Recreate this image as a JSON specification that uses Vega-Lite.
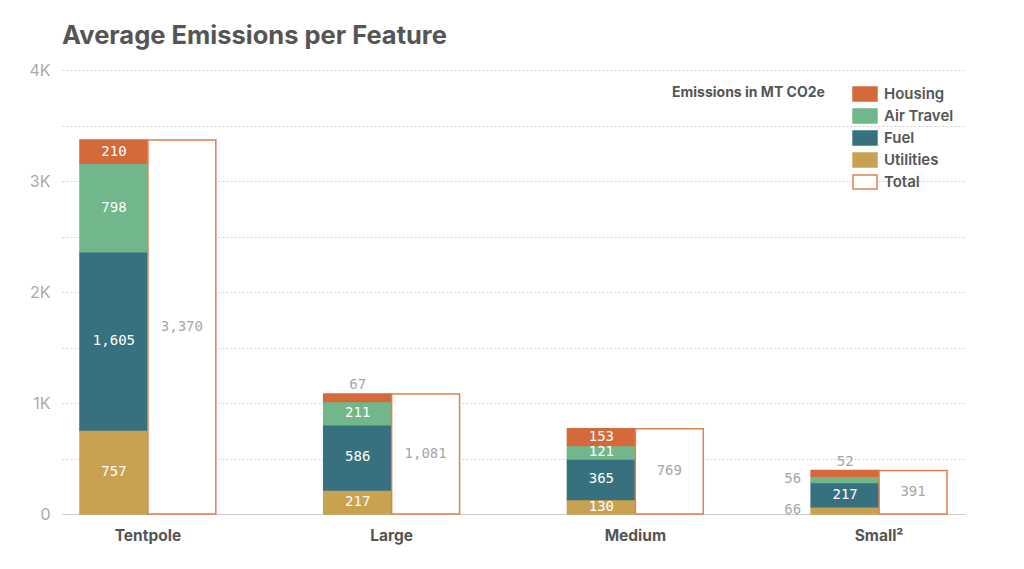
{
  "$schema": "https://vega.github.io/schema/vega-lite/v6.json",
  "width": 903,
  "height": 444,
  "autosize": {"type": "none"},
  "padding": {"left": 62, "top": 70, "right": 59, "bottom": 55},
  "background": "white",
  "title": {"text": "Average Emissions per Feature", "anchor": "start", "frame": "group", "font": "Inter", "fontSize": 25.5, "fontWeight": "bold", "color": "#555555", "offset": 13},
  "config": {"view": {"stroke": null}, "font": "Inter"},
  "data": {"values": [
    {"category": "Tentpole", "group": "Stack", "series": "Utilities", "value": 757, "rank": 1},
    {"category": "Tentpole", "group": "Stack", "series": "Fuel", "value": 1605, "rank": 2},
    {"category": "Tentpole", "group": "Stack", "series": "Air Travel", "value": 798, "rank": 3},
    {"category": "Tentpole", "group": "Stack", "series": "Housing", "value": 210, "rank": 4},
    {"category": "Tentpole", "group": "Total", "series": "Total", "value": 3370, "rank": 1},
    {"category": "Large", "group": "Stack", "series": "Utilities", "value": 217, "rank": 1},
    {"category": "Large", "group": "Stack", "series": "Fuel", "value": 586, "rank": 2},
    {"category": "Large", "group": "Stack", "series": "Air Travel", "value": 211, "rank": 3},
    {"category": "Large", "group": "Stack", "series": "Housing", "value": 67, "rank": 4},
    {"category": "Large", "group": "Total", "series": "Total", "value": 1081, "rank": 1},
    {"category": "Medium", "group": "Stack", "series": "Utilities", "value": 130, "rank": 1},
    {"category": "Medium", "group": "Stack", "series": "Fuel", "value": 365, "rank": 2},
    {"category": "Medium", "group": "Stack", "series": "Air Travel", "value": 121, "rank": 3},
    {"category": "Medium", "group": "Stack", "series": "Housing", "value": 153, "rank": 4},
    {"category": "Medium", "group": "Total", "series": "Total", "value": 769, "rank": 1},
    {"category": "Small²", "group": "Stack", "series": "Utilities", "value": 66, "rank": 1},
    {"category": "Small²", "group": "Stack", "series": "Fuel", "value": 217, "rank": 2},
    {"category": "Small²", "group": "Stack", "series": "Air Travel", "value": 56, "rank": 3},
    {"category": "Small²", "group": "Stack", "series": "Housing", "value": 52, "rank": 4},
    {"category": "Small²", "group": "Total", "series": "Total", "value": 391, "rank": 1}
  ]},
  "transform": [
    {"stack": "value", "groupby": ["category", "group"], "sort": [{"field": "rank", "order": "ascending"}], "as": ["v0", "v1"]}
  ],
  "encoding": {
    "x": {
      "field": "category", "type": "nominal",
      "sort": ["Tentpole", "Large", "Medium", "Small²"],
      "scale": {"paddingInner": 0.4426, "paddingOuter": 0.0738},
      "axis": {"title": null, "labelAngle": 0, "labelFont": "Inter", "labelFontWeight": "bold", "labelFontSize": 15.5, "labelColor": "#555555", "labelPadding": 14, "ticks": false, "domainColor": "#cccccc", "domainWidth": 1}
    },
    "xOffset": {"field": "group", "type": "nominal", "sort": ["Stack", "Total"], "scale": {"paddingInner": 0, "paddingOuter": 0}}
  },
  "layer": [
    {
      "mark": {"type": "bar", "strokeWidth": 1.5},
      "encoding": {
        "y": {
          "field": "v1", "type": "quantitative",
          "scale": {"domain": [0, 4000], "nice": false},
          "axis": {"title": null, "values": [0, 500, 1000, 1500, 2000, 2500, 3000, 3500, 4000],
                   "labelExpr": "datum.value === 0 ? '0' : (datum.value % 1000 === 0 ? (datum.value / 1000) + 'K' : '')",
                   "labelFont": "Inter", "labelFontSize": 16, "labelColor": "#aaaaaa", "labelPadding": 12,
                   "ticks": false, "domain": false, "gridDash": [2, 2], "gridColor": "#cfcfcf", "gridWidth": 1}
        },
        "y2": {"field": "v0"},
        "fill": {
          "field": "series", "type": "nominal",
          "scale": {"domain": ["Housing", "Air Travel", "Fuel", "Utilities", "Total"], "range": ["#d4693a", "#72b68b", "#37717f", "#c8a250", "#ffffff"]},
          "legend": {"title": "Emissions in MT CO2e", "orient": "none", "legendX": 610, "legendY": 16, "titleOrient": "left", "titleAnchor": "start",
                     "titleFont": "Inter", "titleFontSize": 14, "titleFontWeight": "bold", "titleColor": "#555555", "titlePadding": 32,
                     "labelFont": "Inter", "labelFontSize": 15, "labelFontWeight": 600, "labelColor": "#555555", "labelOffset": 11,
                     "symbolType": "M-1.71,-1H1.71V1H-1.71Z", "symbolSize": 196, "symbolStrokeWidth": 1.5, "rowPadding": 2}
        },
        "stroke": {
          "field": "series", "type": "nominal",
          "scale": {"domain": ["Housing", "Air Travel", "Fuel", "Utilities", "Total"], "range": ["#d4693a", "#72b68b", "#37717f", "#c8a250", "#e0804f"]},
          "legend": {"title": "Emissions in MT CO2e", "orient": "none", "legendX": 610, "legendY": 16, "titleOrient": "left", "titleAnchor": "start",
                     "titleFont": "Inter", "titleFontSize": 14, "titleFontWeight": "bold", "titleColor": "#555555", "titlePadding": 32,
                     "labelFont": "Inter", "labelFontSize": 15, "labelFontWeight": 600, "labelColor": "#555555", "labelOffset": 11,
                     "symbolType": "M-1.71,-1H1.71V1H-1.71Z", "symbolSize": 196, "symbolStrokeWidth": 1.5, "rowPadding": 2}
        }
      }
    },
    {
      "transform": [
        {"filter": "!((datum.category === 'Large' && datum.series === 'Housing') || (datum.category === 'Small²' && datum.group === 'Stack' && datum.series !== 'Fuel'))"},
        {"fold": ["v0", "v1"], "as": ["edge", "pos"]},
        {"aggregate": [{"op": "mean", "field": "pos", "as": "mid"}], "groupby": ["category", "group", "series", "value"]}
      ],
      "mark": {"type": "text", "font": "DejaVu Sans Mono", "fontSize": 14, "baseline": "middle", "align": "center"},
      "encoding": {
        "y": {"field": "mid", "type": "quantitative"},
        "text": {"field": "value", "type": "quantitative", "format": ","},
        "color": {"condition": {"test": "datum.group === 'Total'", "value": "#a6a6a6"}, "value": "#ffffff"}
      }
    },
    {
      "transform": [
        {"filter": "datum.series === 'Housing' && (datum.category === 'Large' || datum.category === 'Small²')"}
      ],
      "mark": {"type": "text", "font": "DejaVu Sans Mono", "fontSize": 14, "baseline": "bottom", "align": "center", "dy": -2, "color": "#a6a6a6"},
      "encoding": {
        "y": {"field": "v1", "type": "quantitative"},
        "text": {"field": "value", "type": "quantitative", "format": ","}
      }
    },
    {
      "transform": [
        {"filter": "datum.category === 'Small²' && (datum.series === 'Air Travel' || datum.series === 'Utilities')"},
        {"fold": ["v0", "v1"], "as": ["edge", "pos"]},
        {"aggregate": [{"op": "mean", "field": "pos", "as": "mid"}], "groupby": ["category", "group", "series", "value"]}
      ],
      "mark": {"type": "text", "font": "DejaVu Sans Mono", "fontSize": 14, "baseline": "middle", "align": "right", "dx": -44, "color": "#a6a6a6"},
      "encoding": {
        "y": {"field": "mid", "type": "quantitative"},
        "text": {"field": "value", "type": "quantitative", "format": ","}
      }
    }
  ]
}
